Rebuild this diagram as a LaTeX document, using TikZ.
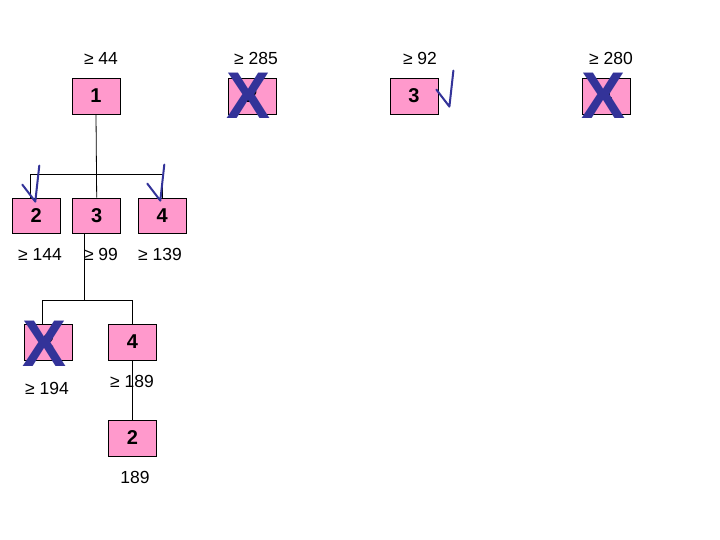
\documentclass[tikz,border=0pt]{standalone}
\usepackage{fontspec}
\setmainfont{Liberation Sans}
\usetikzlibrary{positioning}
\definecolor{boxpink}{RGB}{255,153,204}
\definecolor{markblue}{RGB}{51,51,153}
\tikzset{
  ordbox/.style={draw, fill=boxpink, line width=0.8pt, minimum width=48pt, minimum height=36pt, inner sep=0pt, font=\fontsize{20}{22}\selectfont\bfseries},
  bound/.style={font=\fontsize{17.5}{19}\selectfont, inner sep=0pt},
  cross/.style={text=markblue, font=\fontsize{66}{66}\selectfont\bfseries, inner sep=0pt},
  link/.style={line width=0.8pt},
  okmark/.pic={\draw[markblue, line width=2pt, line join=round, line cap=round] (0,0) -- ++(13,17) -- ++(4,-36);}
}

\begin{document}
\begin{tikzpicture}[x=1pt, y=-1pt]
\useasboundingbox[fill=white] (0,0) rectangle (720,540);
% Top row
\node[ordbox] (b1) at (96,96) {1};
\node[ordbox] (b2) at (252,96) {2};
\node[ordbox] (b3) at (414,96) {3};
\node[ordbox] (b4) at (606.5,96) {4};
\node[bound] (lb1) at (101,58) {≥ 44};
\node[bound] (lb2) at (256,58) {≥ 285};
\node[bound] (lb3) at (420,58) {≥ 92};
\node[bound] (lb4) at (611,58) {≥ 280};
% Second row
\node[ordbox, minimum height=35pt] (c2) at (36.3,215.5) {2};
\node[ordbox, minimum height=35pt] (c3) at (96.7,215.5) {3};
\node[ordbox, minimum height=35pt] (c4) at (162.3,215.5) {4};
\node[bound] (lc2) at (40,254) {≥ 144};
\node[bound] (lc3) at (101,254) {≥ 99};
\node[bound] (lc4) at (160,254) {≥ 139};
% Third row
\node[ordbox] (d2) at (48.5,342) {2};
\node[ordbox] (d4) at (132.5,342) {4};
\node[bound] (ld2) at (47,388) {≥ 194};
\node[bound] (ld4) at (132,381) {≥ 189};
% Last
\node[ordbox] (e2) at (132.5,438) {2};
\node[bound] (le2) at (135,477) {189};
% Connectors
\draw[link] (b1.south) -- (c3.north);
\draw[link] (b1.south) ++(0,60) coordinate (j1) -| ([xshift=-6pt]c2.north);
\draw[link] (j1) -| (c4.north);
\draw[link] ([xshift=-12.7pt]c3.south) -- ++(0,67) coordinate (j2) -| ([xshift=-6.5pt]d2.north);
\draw[link] (j2) -| (d4.north);
\draw[link] (d4.south) -- (e2.north);
% Crosses
\node[cross] (x2) at ([xshift=-3pt]b2.center) {X};
\node[cross] (x4) at ([xshift=-3pt]b4.center) {X};
\node[cross] (xd) at ([xshift=-4pt, yshift=-1.5pt]d2.center) {X};
% Ticks
\pic at ([shift={(-2,12)}]b3.north east) {okmark};
\pic at ([shift={(-14,-13)}]c2.north) {okmark};
\pic at ([shift={(-15,-14)}]c4.north) {okmark};
\end{tikzpicture}
\end{document}
